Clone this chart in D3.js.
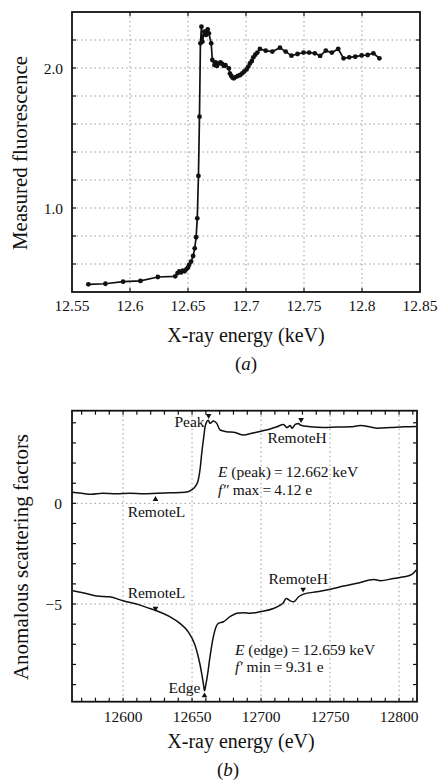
<!DOCTYPE html>
<html>
<head>
<meta charset="utf-8">
<script src="https://cdn.jsdelivr.net/npm/d3@7/dist/d3.min.js"></script>
<style>
  html, body { margin: 0; padding: 0; background: #fff; }
  svg { display: block; }
</style>
</head>
<body>
<svg id="chart" width="441" height="784"></svg>
<script>
// ---------- Panel (a) data: measured fluorescence ----------
const energyA = [12.5641, 12.5788, 12.5940, 12.6090, 12.6240, 12.6390, 12.6410, 12.6425, 12.6440, 12.6455,
  12.6470, 12.6485, 12.6500, 12.6510, 12.6527, 12.6544, 12.6558, 12.6570, 12.6580, 12.6590,
  12.6599, 12.6607, 12.6616, 12.6624, 12.6642, 12.6655, 12.6670, 12.6680, 12.6700, 12.6710,
  12.6728, 12.6738, 12.6750, 12.6766, 12.6780, 12.6795, 12.6810, 12.6823, 12.6852, 12.6862,
  12.6873, 12.6885, 12.6895, 12.6910, 12.6930, 12.6950, 12.6968, 12.6985, 12.7005, 12.7020,
  12.7034, 12.7050, 12.7063, 12.7080, 12.7098, 12.7120, 12.7170, 12.7227, 12.7293, 12.7342,
  12.7392, 12.7444, 12.7496, 12.7544, 12.7593, 12.7639, 12.7688, 12.7740, 12.7795, 12.7841,
  12.7890, 12.7942, 12.7997, 12.8049, 12.8098, 12.8150];
const fluorA = [0.455, 0.459, 0.474, 0.479, 0.507, 0.512, 0.535, 0.548, 0.540, 0.553,
  0.548, 0.562, 0.575, 0.595, 0.617, 0.657, 0.712, 0.791, 0.926, 1.229,
  1.652, 2.176, 2.295, 2.188, 2.260, 2.236, 2.276, 2.248, 2.176, 2.057,
  2.021, 2.040, 2.015, 2.033, 2.040, 2.029, 2.015, 2.021, 1.998, 1.960,
  1.943, 1.930, 1.926, 1.935, 1.943, 1.950, 1.962, 1.975, 1.990, 2.010,
  2.033, 2.050, 2.076, 2.095, 2.110, 2.136, 2.124, 2.117, 2.145, 2.117,
  2.088, 2.100, 2.110, 2.110, 2.105, 2.086, 2.124, 2.110, 2.136, 2.069,
  2.076, 2.081, 2.090, 2.093, 2.105, 2.069];
const xTicksA = [12.55, 12.6, 12.65, 12.7, 12.75, 12.8, 12.85];
const xTickLabelsA = ["12.55", "12.6", "12.65", "12.7", "12.75", "12.8", "12.85"];
const yTicksA = [1.0, 2.0];
const yTickLabelsA = ["1.0", "2.0"];
const yGridA = [0.6, 0.8, 1.0, 1.2, 1.4, 1.6, 1.8, 2.0, 2.2];

// ---------- Panel (b) data: anomalous scattering factors ----------
const fppEnergy = [12563, 12570, 12577, 12585, 12595, 12605, 12615, 12625, 12635, 12645,
  12650, 12652.5, 12654.5, 12656, 12657, 12658.3, 12659.4, 12660.6, 12661.8, 12663,
  12665.4, 12667.9, 12670.3, 12675.1, 12681.2, 12687.2, 12693.3, 12700.6, 12706.6, 12711.5,
  12716.3, 12718.7, 12721.1, 12722.4, 12724.8, 12727.2, 12728.4, 12735.7, 12745.3, 12755.1,
  12764.8, 12772.1, 12779.3, 12784.1, 12793.8, 12803.5, 12813];
const fppValues = [0.55, 0.50, 0.45, 0.50, 0.48, 0.50, 0.47, 0.50, 0.52, 0.55,
  0.68, 0.85, 1.16, 1.80, 2.48, 3.20, 3.80, 4.05, 4.12, 3.97,
  4.09, 3.97, 3.64, 3.56, 3.52, 3.39, 3.48, 3.59, 3.69, 3.80,
  3.92, 3.76, 3.86, 3.73, 3.92, 3.97, 3.89, 3.80, 3.76, 3.79,
  3.80, 3.86, 3.79, 3.73, 3.76, 3.80, 3.82];
const fpEnergy = [12563.7, 12570.9, 12580.7, 12590.3, 12600, 12609.7, 12619.4, 12624.3, 12633.9, 12641.2,
  12647.2, 12652.1, 12654.5, 12657, 12658.3, 12659, 12660, 12661, 12663, 12665.4,
  12669, 12672.7, 12677.5, 12682.4, 12687.2, 12692.1, 12699.3, 12709, 12713.9, 12716,
  12718.2, 12721.1, 12723.6, 12727.2, 12730.8, 12740.5, 12750.2, 12759.9, 12769.6, 12781.7,
  12786.5, 12796.2, 12803.5, 12809.6, 12812.5];
const fpValues = [-4.34, -4.44, -4.60, -4.64, -4.84, -5.00, -5.22, -5.33, -5.63, -5.96,
  -6.38, -7.04, -7.62, -8.45, -9.00, -9.31, -9.00, -8.61, -7.62, -6.63,
  -5.96, -5.88, -5.63, -5.46, -5.43, -5.46, -5.38, -5.22, -5.05, -4.95,
  -4.72, -4.84, -4.89, -4.64, -4.51, -4.39, -4.27, -4.11, -3.97, -3.78,
  -3.84, -3.73, -3.65, -3.51, -3.31];
const xTicksB = [12600, 12650, 12700, 12750, 12800];
const xTickLabelsB = ["12600", "12650", "12700", "12750", "12800"];
const yTicksB = [0, -5];
const yTickLabelsB = ["0", "\u22125"];

// markers: label, energy, value, direction (1 = down-pointing, -1 = up-pointing)
const markerLabels = ["Peak", "RemoteH", "RemoteL", "RemoteL", "RemoteH", "Edge"];
const markerEnergy = [12662, 12729, 12623.5, 12623.5, 12730.5, 12659];
const markerValue = [4.35, 4.15, 0.2, -5.22, -4.27, -9.55];
const markerDir = [1, 1, -1, 1, 1, -1];

const FONT = "'Liberation Serif', 'Times New Roman', Times, 'DejaVu Serif', serif";
const svg = d3.select("#chart").attr("font-family", FONT);
svg.append("rect").attr("width", 441).attr("height", 784).attr("fill", "#fff");

// ================= Panel (a) =================
const ax = d3.scaleLinear().domain([12.55, 12.85]).range([72, 420]);
const ay = d3.scaleLinear().domain([0.4, 2.4]).range([292, 12]);
const ga = svg.append("g");

// grid
ga.selectAll("line.vg").data(xTicksA.slice(1, -1)).join("line")
  .attr("x1", d => ax(d)).attr("x2", d => ax(d)).attr("y1", ay(2.4)).attr("y2", ay(0.4))
  .attr("stroke", "#9a9a9a").attr("stroke-width", 1).attr("stroke-dasharray", "1.5,3");
ga.selectAll("line.hg").data(yGridA).join("line")
  .attr("y1", d => ay(d)).attr("y2", d => ay(d)).attr("x1", ax(12.55)).attr("x2", ax(12.85))
  .attr("stroke", "#9a9a9a").attr("stroke-width", 1).attr("stroke-dasharray", "1.5,3");

// inner ticks
ga.selectAll("line.tl").data(yGridA).join("line")
  .attr("x1", ax(12.55)).attr("x2", ax(12.55) + 4).attr("y1", d => ay(d)).attr("y2", d => ay(d))
  .attr("stroke", "#111").attr("stroke-width", 1.2);
ga.selectAll("line.tr").data(yGridA).join("line")
  .attr("x1", ax(12.85)).attr("x2", ax(12.85) - 4).attr("y1", d => ay(d)).attr("y2", d => ay(d))
  .attr("stroke", "#111").attr("stroke-width", 1.2);
ga.selectAll("line.tb").data(xTicksA.slice(1, -1)).join("line")
  .attr("x1", d => ax(d)).attr("x2", d => ax(d)).attr("y1", ay(0.4)).attr("y2", ay(0.4) - 4)
  .attr("stroke", "#111").attr("stroke-width", 1.2);
ga.selectAll("line.tt").data(xTicksA.slice(1, -1)).join("line")
  .attr("x1", d => ax(d)).attr("x2", d => ax(d)).attr("y1", ay(2.4)).attr("y2", ay(2.4) + 4)
  .attr("stroke", "#111").attr("stroke-width", 1.2);

// frame
ga.append("rect").attr("x", ax(12.55)).attr("y", ay(2.4))
  .attr("width", ax(12.85) - ax(12.55)).attr("height", ay(0.4) - ay(2.4))
  .attr("fill", "none").attr("stroke", "#111").attr("stroke-width", 1.8);

// data line + points
const ptsA = energyA.map((e, i) => [e, fluorA[i]]);
ga.append("path").datum(ptsA)
  .attr("d", d3.line().x(d => ax(d[0])).y(d => ay(d[1])))
  .attr("fill", "none").attr("stroke", "#111").attr("stroke-width", 1.7);
ga.selectAll("circle").data(ptsA).join("circle")
  .attr("cx", d => ax(d[0])).attr("cy", d => ay(d[1])).attr("r", 2.4).attr("fill", "#111");

// tick labels
ga.selectAll("text.xl").data(xTicksA).join("text")
  .attr("x", d => ax(d)).attr("y", 311).attr("text-anchor", "middle").attr("fill", "#111")
  .attr("font-size", 15.5).text((d, i) => xTickLabelsA[i]);
ga.selectAll("text.yl").data(yTicksA).join("text")
  .attr("x", 63).attr("y", d => ay(d) + 5.5).attr("text-anchor", "end").attr("fill", "#111")
  .attr("font-size", 15.5).text((d, i) => yTickLabelsA[i]);

ga.append("text").attr("x", 246).attr("y", 342).attr("text-anchor", "middle").attr("fill", "#111")
  .attr("font-size", 20).text("X-ray energy (keV)");
ga.append("text").attr("transform", "translate(27,153) rotate(-90)").attr("text-anchor", "middle")
  .attr("fill", "#111").attr("font-size", 21).text("Measured fluorescence");
const capA = ga.append("text").attr("x", 246).attr("y", 370).attr("text-anchor", "middle")
  .attr("fill", "#111").attr("font-size", 19);
capA.append("tspan").text("(");
capA.append("tspan").attr("font-style", "italic").text("a");
capA.append("tspan").text(")");

// ================= Panel (b) =================
const bx = d3.scaleLinear().domain([12563, 12813]).range([72, 417]);
const by = d3.scaleLinear().domain([-9.85, 4.6]).range([701.7, 410.7]);
const gb = svg.append("g");

gb.selectAll("line.vg").data(xTicksB).join("line")
  .attr("x1", d => bx(d)).attr("x2", d => bx(d)).attr("y1", by(4.6)).attr("y2", by(-9.85))
  .attr("stroke", "#9a9a9a").attr("stroke-width", 1).attr("stroke-dasharray", "1.5,3");
gb.selectAll("line.hg").data(yTicksB).join("line")
  .attr("y1", d => by(d)).attr("y2", d => by(d)).attr("x1", bx(12563)).attr("x2", bx(12813))
  .attr("stroke", "#9a9a9a").attr("stroke-width", 1).attr("stroke-dasharray", "1.5,3");

const minorX = d3.range(12570, 12813, 10);
const minorY = d3.range(-9, 5, 1);
gb.selectAll("line.tb").data(minorX).join("line")
  .attr("x1", d => bx(d)).attr("x2", d => bx(d)).attr("y1", by(-9.85)).attr("y2", by(-9.85) - 4)
  .attr("stroke", "#111").attr("stroke-width", 1.2);
gb.selectAll("line.tt").data(minorX).join("line")
  .attr("x1", d => bx(d)).attr("x2", d => bx(d)).attr("y1", by(4.6)).attr("y2", by(4.6) + 4)
  .attr("stroke", "#111").attr("stroke-width", 1.2);
gb.selectAll("line.tl").data(minorY).join("line")
  .attr("x1", bx(12563)).attr("x2", bx(12563) + 4).attr("y1", d => by(d)).attr("y2", d => by(d))
  .attr("stroke", "#111").attr("stroke-width", 1.2);
gb.selectAll("line.tr").data(minorY).join("line")
  .attr("x1", bx(12813)).attr("x2", bx(12813) - 4).attr("y1", d => by(d)).attr("y2", d => by(d))
  .attr("stroke", "#111").attr("stroke-width", 1.2);

gb.append("rect").attr("x", bx(12563)).attr("y", by(4.6))
  .attr("width", bx(12813) - bx(12563)).attr("height", by(-9.85) - by(4.6))
  .attr("fill", "none").attr("stroke", "#111").attr("stroke-width", 1.8);

const lineB = d3.line().x(d => bx(d[0])).y(d => by(d[1])).curve(d3.curveMonotoneX);
gb.append("path").datum(fppEnergy.map((e, i) => [e, fppValues[i]]))
  .attr("d", lineB).attr("fill", "none").attr("stroke", "#111").attr("stroke-width", 1.5);
gb.append("path").datum(fpEnergy.map((e, i) => [e, fpValues[i]]))
  .attr("d", lineB).attr("fill", "none").attr("stroke", "#111").attr("stroke-width", 1.5);

// markers
const tri = d3.symbol().type(d3.symbolTriangle).size(14);
markerEnergy.forEach((e, i) => {
  gb.append("path").attr("d", tri)
    .attr("transform", `translate(${bx(e)},${by(markerValue[i])}) rotate(${markerDir[i] === 1 ? 180 : 0})`)
    .attr("fill", "#111");
});

// marker labels
const lab = (x, y, t, anchor) => gb.append("text").attr("x", x).attr("y", y).attr("fill", "#111")
  .attr("font-size", 15.5).attr("text-anchor", anchor || "start").text(t);
lab(bx(markerEnergy[0]) - 4, by(markerValue[0]) + 11, markerLabels[0], "end");
lab(bx(markerEnergy[1]) - 4, by(markerValue[1]) + 23, markerLabels[1], "middle");
lab(bx(markerEnergy[2]) + 1, by(markerValue[2]) + 18, markerLabels[2], "middle");
lab(bx(markerEnergy[3]) + 1, by(markerValue[3]) - 10, markerLabels[3], "middle");
lab(bx(markerEnergy[4]) - 5, by(markerValue[4]) - 5, markerLabels[4], "middle");
lab(bx(markerEnergy[5]) - 4, by(markerValue[5]) - 3, markerLabels[5], "end");

// annotations
const ann = (x, y, parts) => {
  const t = gb.append("text").attr("x", x).attr("y", y).attr("font-size", 15.5).attr("fill", "#111");
  parts.forEach(p => t.append("tspan").attr("font-style", p[1] ? "italic" : "normal").text(p[0]));
};
ann(218, 477, [["E", true], [" (peak)\u2009=\u200912.662 keV", false]]);
ann(218, 495, [["f\u2033", true], [" max\u2009=\u20094.12 e", false]]);
ann(235, 655, [["E", true], [" (edge)\u2009=\u200912.659 keV", false]]);
ann(235, 672, [["f\u2032", true], [" min\u2009=\u20099.31 e", false]]);

gb.selectAll("text.xl").data(xTicksB).join("text")
  .attr("x", d => bx(d)).attr("y", 722).attr("text-anchor", "middle").attr("fill", "#111")
  .attr("font-size", 15.5).text((d, i) => xTickLabelsB[i]);
gb.selectAll("text.yl").data(yTicksB).join("text")
  .attr("x", 62).attr("y", d => by(d) + 5.5).attr("text-anchor", "end").attr("fill", "#111")
  .attr("font-size", 15.5).text((d, i) => yTickLabelsB[i]);

gb.append("text").attr("x", 241).attr("y", 748).attr("text-anchor", "middle").attr("fill", "#111")
  .attr("font-size", 20).text("X-ray energy (eV)");
gb.append("text").attr("transform", "translate(28,557) rotate(-90)").attr("text-anchor", "middle")
  .attr("fill", "#111").attr("font-size", 21).text("Anomalous scattering factors");
const capB = gb.append("text").attr("x", 228).attr("y", 776).attr("text-anchor", "middle")
  .attr("fill", "#111").attr("font-size", 19);
capB.append("tspan").text("(");
capB.append("tspan").attr("font-style", "italic").text("b");
capB.append("tspan").text(")");
</script>
</body>
</html>
